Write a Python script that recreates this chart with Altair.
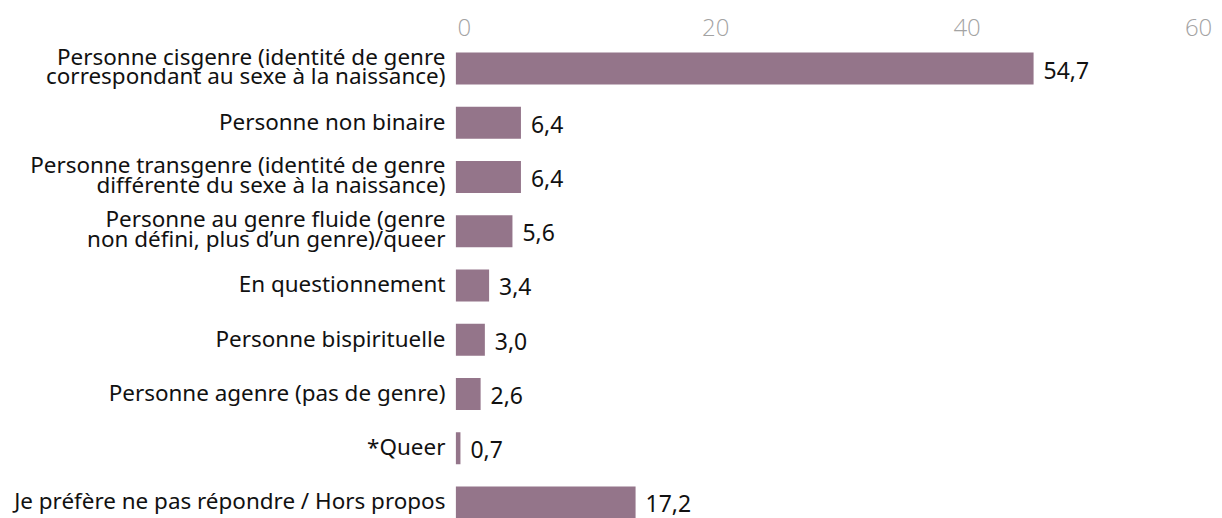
import altair as alt
import pandas as pd

categories = [
    "Personne cisgenre (identité de genre\ncorrespondant au sexe à la naissance)",
    "Personne non binaire",
    "Personne transgenre (identité de genre\ndifférente du sexe à la naissance)",
    "Personne au genre fluide (genre\nnon défini, plus d’un genre)/queer",
    "En questionnement",
    "Personne bispirituelle",
    "Personne agenre (pas de genre)",
    "*Queer",
    "Je préfère ne pas répondre / Hors propos",
]
values = [54.7, 6.4, 6.4, 5.6, 3.4, 3.0, 2.6, 0.7, 17.2]
value_labels = ["54,7", "6,4", "6,4", "5,6", "3,4", "3,0", "2,6", "0,7", "17,2"]
tick_values = [0, 20, 40, 60]

df = pd.DataFrame({"cat": categories, "val": values, "lab": value_labels})
ticks_df = pd.DataFrame({"t": tick_values})

BAR_COLOR = "#94758a"
W = 760
H = 483

xscale = alt.Scale(domain=[0.27, 0.27 + W / 10.64], zero=False, nice=False)
yenc = alt.Y(
    "cat:N",
    sort=categories,
    scale=alt.Scale(paddingInner=0.41, paddingOuter=0.147),
    axis=alt.Axis(
        title=None,
        labelExpr="split(datum.label, '\\n')",
        labelFont="Noto Sans",
        labelFontSize=22.5,
        labelLineHeight=20,
        labelColor="#111111",
        labelPadding=11,
        labelLimit=1000,
        labelOffset={"condition": {"test": "indexof(datum.label, '\\n') >= 0", "value": -11}, "value": 0},
        ticks=False,
        domain=False,
        grid=False,
    ),
)

bars = alt.Chart(df).mark_bar(color=BAR_COLOR, clip=True).encode(
    x=alt.X("val:Q", scale=xscale, axis=None),
    y=yenc,
)

texts = alt.Chart(df).mark_text(
    align="left", baseline="middle", dx=10, dy=3,
    font="Noto Sans", fontSize=23, color="#111111",
).encode(
    x=alt.X("val:Q", scale=xscale, axis=None),
    y=alt.Y("cat:N", sort=categories),
    text="lab:N",
)

axis_layer = alt.Chart(ticks_df).mark_point(opacity=0).encode(
    x=alt.X(
        "t:Q",
        scale=alt.Scale(domain=[0, 60], range=[8, 764], nice=False, zero=False),
        axis=alt.Axis(
            orient="top",
            title=None,
            values=tick_values,
            ticks=False,
            domain=False,
            grid=False,
            labelFont="Open Sans",
            labelFontSize=24,
            labelFontWeight=300,
            labelColor="#a3a3a3",
            labelPadding=4,
            labelFlush=False,
            labelOffset={"condition": {"test": "datum.value == 60", "value": -20}, "value": 0},
        ),
    ),
)

chart = (
    alt.layer(bars + texts, axis_layer)
    .resolve_scale(x="independent")
    .properties(
        width=W,
        height=H,
        autosize=alt.AutoSizeParams(type="none"),
        padding={"left": 449, "top": 36, "right": 0, "bottom": 0},
    )
    .configure_view(stroke=None)
)

chart.save("out.html", embed_options={"renderer": "svg", "actions": False})
